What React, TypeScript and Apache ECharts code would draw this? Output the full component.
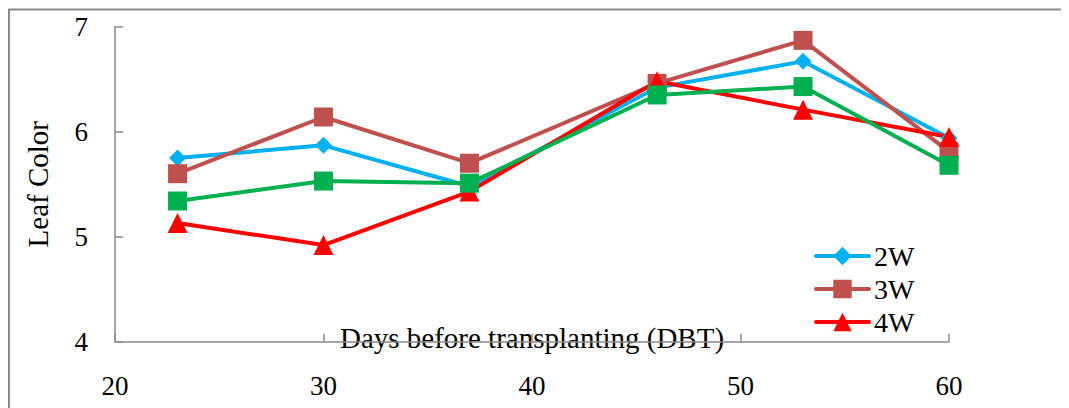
import React, { useEffect, useRef } from "react";
import * as echarts from "echarts";

// Days before transplanting at which leaf colour was scored
const days = [23, 30, 37, 46, 53, 60];

// Leaf colour readings per seedling age
const leaf2W = [5.75, 5.87, 5.48, 6.42, 6.67, 5.94];
const leaf3W = [5.6, 6.14, 5.7, 6.46, 6.87, 5.81];
const leaf4W = [5.13, 4.92, 5.43, 6.48, 6.21, 5.95];
const leaf5W = [5.34, 5.53, 5.51, 6.35, 6.43, 5.68];

const legendNames = ["2W", "3W", "4W"];

const FONT = "'Liberation Serif', 'Times New Roman', serif";
const AXIS_GREY = "#8a8a8a";

const pairs = (ys: number[]) => days.map((d, i) => [d, ys[i]]);

export default function App() {
  const ref = useRef<HTMLDivElement>(null);

  useEffect(() => {
    if (!ref.current) return;
    const chart = echarts.init(ref.current, undefined, { renderer: "svg" });

    const line = (
      name: string,
      ys: number[],
      color: string,
      symbol: string,
      symbolSize: number | number[]
    ) => ({
      name,
      type: "line",
      data: pairs(ys),
      symbol,
      symbolSize,
      lineStyle: { color, width: 4 },
      itemStyle: { color },
      z: 3,
    });

    chart.setOption({
      animation: false,
      backgroundColor: "#ffffff",
      textStyle: { fontFamily: FONT },
      graphic: [
        {
          type: "rect",
          shape: { x: 1, y: 1.5, width: 1200, height: 600 },
          style: { fill: "none", stroke: AXIS_GREY, lineWidth: 2 },
          silent: true,
          z: 0,
        },
      ],
      grid: {
        left: 107,
        top: 18.7,
        width: 834,
        height: 315,
        containLabel: false,
        outerBoundsMode: "none",
      },
      legend: {
        data: legendNames,
        orient: "vertical",
        left: 806,
        top: 234,
        padding: 0,
        itemWidth: 53,
        itemHeight: 23,
        itemGap: 5,
        lineStyle: { width: 4, cap: "round" },
        textStyle: { fontFamily: FONT, fontSize: 28, color: "#000" },
      },
      xAxis: {
        type: "value",
        min: 20,
        max: 60,
        interval: 10,
        name: "Days before transplanting (DBT)",
        nameLocation: "middle",
        nameGap: -4,
        nameMoveOverlap: false,
        nameTextStyle: {
          fontFamily: FONT,
          fontSize: 29,
          color: "#000",
          verticalAlign: "middle",
        },
        axisLine: { lineStyle: { color: AXIS_GREY, width: 1.5 } },
        axisTick: { inside: true, length: 8, lineStyle: { color: AXIS_GREY, width: 1.5 } },
        axisLabel: { margin: 31, fontFamily: FONT, fontSize: 27, color: "#000" },
        splitLine: { show: false },
      },
      yAxis: {
        type: "value",
        min: 4,
        max: 7,
        interval: 1,
        name: "Leaf Color",
        nameLocation: "middle",
        nameGap: 63,
        nameMoveOverlap: false,
        nameTextStyle: { fontFamily: FONT, fontSize: 29, color: "#000" },
        axisLine: { show: true, lineStyle: { color: AXIS_GREY, width: 1.5 } },
        axisTick: { show: true, inside: true, length: 8, lineStyle: { color: AXIS_GREY, width: 1.5 } },
        axisLabel: { margin: 27, fontFamily: FONT, fontSize: 27, color: "#000" },
        splitLine: { show: false },
      },
      series: [
        line("2W", leaf2W, "#00b0f0", "diamond", 17),
        line("3W", leaf3W, "#c0504d", "rect", 19),
        line("4W", leaf4W, "#ff0000", "triangle", 20),
        line("5W", leaf5W, "#00b050", "rect", 19),
      ],
    });

    return () => chart.dispose();
  }, []);

  return <div ref={ref} style={{ width: 1061, height: 400 }} />;
}
